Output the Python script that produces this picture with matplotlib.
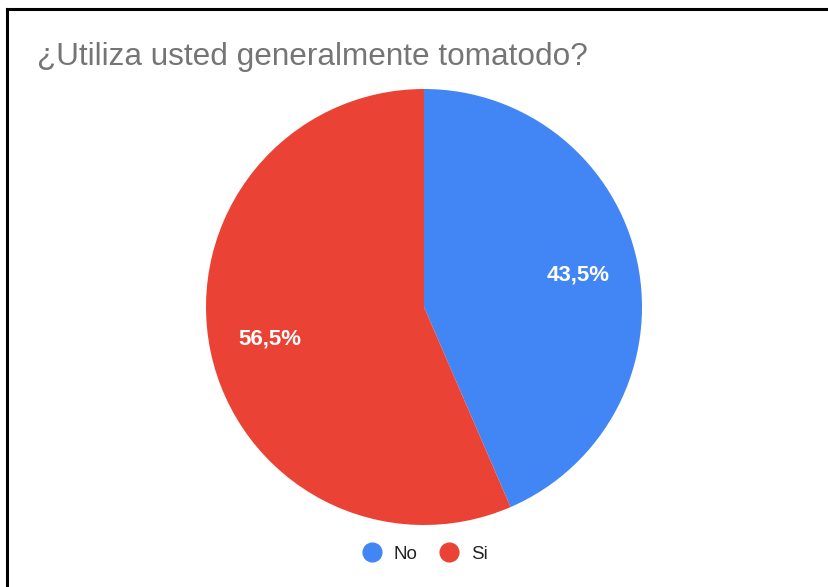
import matplotlib.pyplot as plt
import matplotlib.lines as mlines

labels = ['No', 'Si']
shares = [43.5, 56.5]
colors = ['#4285F4', '#EA4335']
title = '¿Utiliza usted generalmente tomatodo?'

plt.rcParams['font.family'] = ['Liberation Sans', 'DejaVu Sans']

W, H = 829, 587
fig = plt.figure(figsize=(W / 100, H / 100), dpi=100)

# pie centred at (424, 307) px, radius 218 px
cx, cy, r = 424, 307, 218
ax = fig.add_axes([(cx - r) / W, (H - cy - r) / H, 2 * r / W, 2 * r / H])
wedges, texts = ax.pie(shares, colors=colors, startangle=90, counterclock=False,
                       labels=[f'{v:.1f}%'.replace('.', ',') for v in shares],
                       labeldistance=0.72,
                       wedgeprops=dict(linewidth=0))
for t in texts:
    t.set_color('white')
    t.set_fontsize(16)
    t.set_fontweight('bold')
    t.set_ha('center')
    t.set_va('center')
ax.set_xlim(-1, 1)
ax.set_ylim(-1, 1)
ax.set_aspect('equal')
ax.axis('off')

fig.text(37 / W, 1 - 57 / H, title, fontsize=22.7, color='#757575', va='center', ha='left')

# screenshot frame: top and left edges only
fig.add_artist(mlines.Line2D([7.5 / W, 1], [1 - 9 / H, 1 - 9 / H], color='black', linewidth=2.2,
                             transform=fig.transFigure, solid_capstyle='projecting'))
fig.add_artist(mlines.Line2D([7.5 / W, 7.5 / W], [0, 1 - 9 / H], color='black', linewidth=2.2,
                             transform=fig.transFigure, solid_capstyle='projecting'))

handles = [mlines.Line2D([], [], linestyle='none', marker='o', markersize=13.5,
                         markerfacecolor=c, markeredgecolor=c, label=l)
           for c, l in zip(colors, labels)]
fig.legend(handles=handles, loc='center', bbox_to_anchor=(424 / W, 1 - 554 / H), ncol=2,
           frameon=False, fontsize=13.5, handletextpad=0.55, columnspacing=1.1,
           labelcolor='#222222', handlelength=1.2)

fig.savefig('out.png', dpi=100)
